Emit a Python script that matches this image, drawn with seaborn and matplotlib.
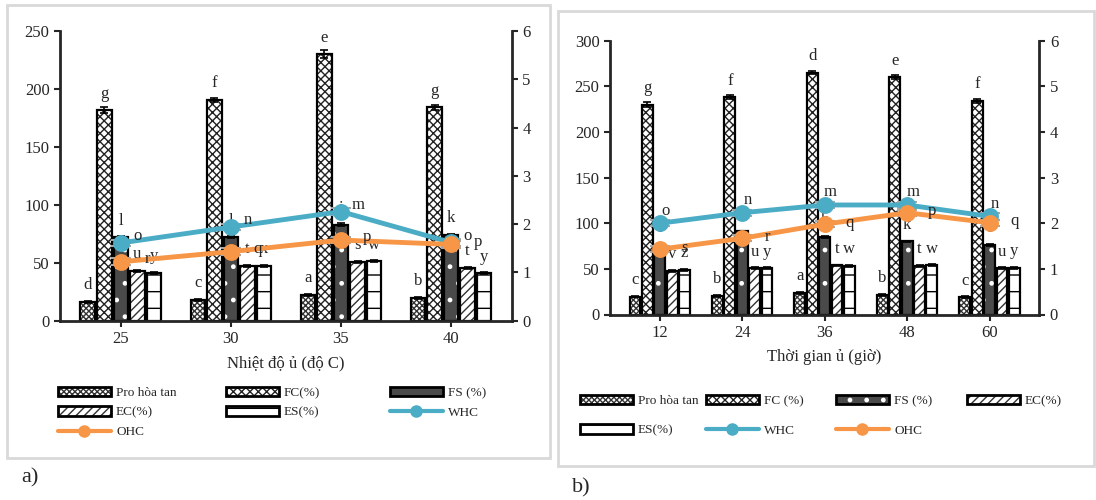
import numpy as np
import pandas as pd
import matplotlib
matplotlib.use('Agg')
import matplotlib.pyplot as plt
import matplotlib.colors as mcolors
from matplotlib.patches import Patch, Rectangle
from matplotlib.lines import Line2D
import seaborn as sns

# ---- panel a: incubation temperature ----
a_cats = ['25', '30', '35', '40']
a_pro = [16.4, 17.8, 22.2, 19.8]
a_fc = [181.5, 190.5, 230.0, 184.0]
a_fs = [72.0, 72.0, 83.0, 74.0]
a_ec = [42.8, 47.1, 50.9, 45.7]
a_es = [41.4, 47.1, 51.3, 40.9]
a_whc = [1.61, 1.94, 2.26, 1.62]
a_ohc = [1.22, 1.43, 1.67, 1.58]
a_fc_err = [2.5, 2.0, 3.5, 2.0]
a_bar_err = [1.0, 1.0, 1.0, 1.0]
a_line_err = [0.07, 0.07, 0.07, 0.07]
a_names = ['Pro hòa tan', 'FC(%)', 'FS (%)', 'EC(%)', 'ES(%)']
a_let_pro = ['d', 'c', 'a', 'b']
a_let_fc = ['g', 'f', 'e', 'g']
a_let_fs = ['l', 'l', 'i', 'k']
a_let_ec = ['u', 't', 's', 't']
a_let_es = ['y', 'x', 'w', 'y']
a_let_whc = ['o', 'n', 'm', 'o']
a_let_ohc = ['r', 'q', 'p', 'p']

# ---- panel b: incubation time ----
b_cats = ['12', '24', '36', '48', '60']
b_pro = [19.7, 20.3, 23.9, 21.4, 18.8]
b_fc = [230.0, 238.0, 265.0, 260.0, 234.0]
b_fs = [76.0, 91.0, 85.0, 80.0, 76.0]
b_ec = [48.0, 50.7, 53.7, 53.5, 50.6]
b_es = [48.7, 50.7, 53.0, 54.0, 51.3]
b_whc = [2.00, 2.23, 2.40, 2.40, 2.15]
b_ohc = [1.43, 1.67, 1.98, 2.23, 2.01]
b_fc_err = [3.0, 2.0, 2.0, 2.5, 2.0]
b_bar_err = [1.0, 1.0, 1.0, 1.0, 1.0]
b_line_err = [0.07, 0.07, 0.07, 0.07, 0.07]
b_names = ['Pro hòa tan', 'FC (%)', 'FS (%)', 'EC(%)', 'ES(%)']
b_let_pro = ['c', 'b', 'a', 'b', 'c']
b_let_fc = ['g', 'f', 'd', 'e', 'f']
b_let_fs = ['l', 'i', 'h', 'k', 'l']
b_let_ec = ['v', 'u', 't', 't', 'u']
b_let_es = ['z', 'y', 'w', 'w', 'y']
b_let_whc = ['o', 'n', 'm', 'm', 'n']
b_let_ohc = ['s', 'r', 'q', 'p', 'q']

# bar looks (Excel pattern fills)
bar_faces = ['white', 'white', '#4a4a4a', 'white', 'white']
bar_hatches = ['xxxxxx', 'xxxx', '.', '////', '-']
hatch_cols = ['#333333', '#222222', 'white', '#333333', 'black']
whc_col = '#4BACC6'
ohc_col = '#F79646'

sns.set_style('ticks')
plt.rcParams['font.family'] = ['Liberation Serif', 'DejaVu Serif']
plt.rcParams['hatch.linewidth'] = 1.0


def draw_panel(ax, cats, bars, names, errs, letters, whc, ohc, line_err,
               whc_let, ohc_let, whc_off, ohc_off, xlabel, ymax, ystep):
    long = pd.DataFrame({
        'cat': np.tile(cats, len(names)),
        'series': np.repeat(names, len(cats)),
        'value': np.concatenate(bars),
    })
    sns.barplot(data=long, x='cat', y='value', hue='series', order=cats,
                hue_order=names, palette=dict(zip(names, bar_faces)),
                saturation=1, width=0.75, gap=0.12, errorbar=None,
                legend=False, edgecolor='black', linewidth=1.6, ax=ax)
    conts = list(ax.containers)
    for i, cont in enumerate(conts):
        for p in cont.patches:
            p.set_hatch(bar_hatches[i])
            p._hatch_color = mcolors.to_rgba(hatch_cols[i])
        xs = [p.get_x() + p.get_width() / 2 for p in cont.patches]
        hs = [p.get_height() for p in cont.patches]
        ax.errorbar(xs, hs, yerr=errs[i], fmt='none', ecolor='black',
                    elinewidth=1.2, capsize=3, capthick=1.2, zorder=3)
        for x, h, t in zip(xs, hs, letters[i]):
            ax.annotate(t, (x, h), xytext=(0, 12), textcoords='offset points',
                        ha='center', va='center', fontsize=12)

    ax.set_ylim(0, ymax)
    ax.set_yticks(np.arange(0, ymax + 1, ystep))
    ax.set_xlabel(xlabel, fontsize=12, labelpad=6)
    ax.set_ylabel('')
    ax.tick_params(axis='both', labelsize=12, width=1.5, length=4, direction='out')
    for s in ['top', 'right']:
        ax.spines[s].set_visible(False)
    for s in ['left', 'bottom']:
        ax.spines[s].set_linewidth(2)

    ax2 = ax.twinx()
    for vals, col, labs, off in [(whc, whc_col, whc_let, whc_off),
                                 (ohc, ohc_col, ohc_let, ohc_off)]:
        sns.pointplot(x=cats, y=vals, order=cats, color=col, markers='o',
                      markersize=9.5, linewidth=3.5, errorbar=None, ax=ax2)
        line = ax2.lines[-1]
        xs = line.get_xdata()
        ax2.errorbar(xs, vals, yerr=line_err, fmt='none', ecolor='#a6a6a6',
                     elinewidth=1.5, capsize=7, capthick=1.5, zorder=1)
        for x, v, t in zip(xs, vals, labs):
            ax2.annotate(t, (x, v), xytext=off, textcoords='offset points',
                         ha='center', va='center', fontsize=12)
    ax2.set_ylim(0, 6)
    ax2.set_yticks(range(0, 7))
    ax2.set_ylabel('')
    ax2.tick_params(axis='y', labelsize=12, width=1.5, length=4, direction='out')
    for s in ['top', 'left', 'bottom']:
        ax2.spines[s].set_visible(False)
    ax2.spines['right'].set_linewidth(2)
    return ax2


def legend_handles(names):
    hs = []
    for i in range(len(names)):
        p = Patch(facecolor=bar_faces[i], edgecolor='black', hatch=bar_hatches[i], linewidth=2)
        p._hatch_color = mcolors.to_rgba(hatch_cols[i])
        hs.append(p)
    hs.append(Line2D([], [], color=whc_col, lw=3, marker='o', markersize=8))
    hs.append(Line2D([], [], color=ohc_col, lw=3, marker='o', markersize=8))
    return hs, list(names) + ['WHC', 'OHC']


def column_legends(fig, handles, labels, col_x, top_y, spacing):
    # Excel legend: fixed columns, filled row by row
    ncol = len(col_x)
    for c, x in enumerate(col_x):
        fig.legend(handles[c::ncol], labels[c::ncol], loc='upper left',
                   bbox_to_anchor=(x / 1096, top_y), frameon=False, borderpad=0,
                   borderaxespad=0, handlelength=4.0, handleheight=0.7,
                   handletextpad=0.4, labelspacing=spacing, fontsize=9.5)


fig = plt.figure(figsize=(10.96, 5.0), dpi=100)

for rect in [(7, 5, 550, 458), (558, 11, 1094, 466)]:
    fig.add_artist(Rectangle((rect[0] / 1096, 1 - rect[3] / 500),
                             (rect[2] - rect[0]) / 1096, (rect[3] - rect[1]) / 500,
                             transform=fig.transFigure, fill=False,
                             edgecolor='#d9d9d9', lw=2))

ax_a = fig.add_axes([0.0547, 0.3586, 0.4124, 0.5794])
draw_panel(ax_a, a_cats, [a_pro, a_fc, a_fs, a_ec, a_es], a_names,
           [a_bar_err, a_fc_err, a_bar_err, a_bar_err, a_bar_err],
           [a_let_pro, a_let_fc, a_let_fs, a_let_ec, a_let_es],
           a_whc, a_ohc, a_line_err, a_let_whc, a_let_ohc,
           (12, 5), (19, 2), 'Nhiệt độ ủ (độ C)', 250, 50)

ax_b = fig.add_axes([0.5566, 0.371, 0.3917, 0.5476])
draw_panel(ax_b, b_cats, [b_pro, b_fc, b_fs, b_ec, b_es], b_names,
           [b_bar_err, b_fc_err, b_bar_err, b_bar_err, b_bar_err],
           [b_let_pro, b_let_fc, b_let_fs, b_let_ec, b_let_es],
           b_whc, b_ohc, b_line_err, b_let_whc, b_let_ohc,
           (4, 9), (18, 1), 'Thời gian ủ (giờ)', 300, 50)

h, l = legend_handles(a_names)
column_legends(fig, h, l, [58, 226, 390], 1 - 387 / 500, 0.55)
h, l = legend_handles(b_names)
column_legends(fig, h, l, [580, 706, 836, 967], 1 - 395 / 500, 1.3)

fig.text(30 / 1096, 1 - 478 / 500, 'a)', fontsize=16, ha='center', va='center')
fig.text(581 / 1096, 1 - 488 / 500, 'b)', fontsize=16, ha='center', va='center')

fig.savefig('out.png', dpi=100)
